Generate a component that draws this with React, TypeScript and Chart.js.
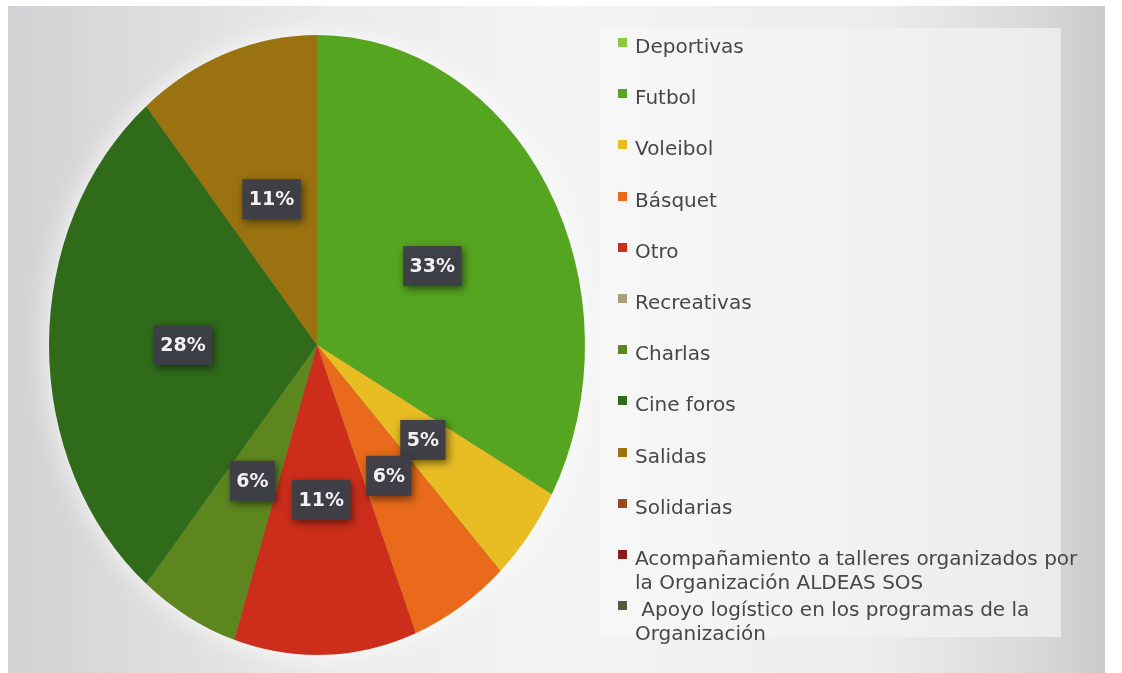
import React, { useEffect, useRef } from "react";
import { Chart, registerables } from "chart.js";
Chart.register(...registerables);

const categories: string[] = [
  "Deportivas",
  "Futbol",
  "Voleibol",
  "Básquet",
  "Otro",
  "Recreativas",
  "Charlas",
  "Cine foros",
  "Salidas",
  "Solidarias",
  "Acompañamiento a talleres organizados por\nla Organización ALDEAS SOS",
  " Apoyo logístico en los programas de la\nOrganización",
];
const percentages: number[] = [0, 33, 5, 6, 11, 0, 6, 28, 11, 0, 0, 0];
const sliceColors: string[] = [
  "#8dc63f",
  "#56a521",
  "#e8bd24",
  "#e86a1a",
  "#cd2e1b",
  "#a6a07a",
  "#5d861f",
  "#306b1a",
  "#9b7210",
  "#9a4a1c",
  "#8a1c1c",
  "#5a5a40",
];

const SY = 310 / 268;

const ellipsePlugin = {
  id: "ellipsePie",
  beforeDatasetsDraw(chart: any) {
    const meta = chart.getDatasetMeta(0);
    const a: any = meta.data[0];
    const { x, y, outerRadius } = a;
    const ctx = chart.ctx as CanvasRenderingContext2D;
    ctx.save();
    ctx.translate(x, y);
    ctx.scale(1, SY);
    ctx.translate(-x, -y);
    ctx.save();
    ctx.shadowColor = "rgba(255,255,255,0.95)";
    ctx.shadowBlur = 28;
    ctx.beginPath();
    ctx.arc(x, y, outerRadius - 1, 0, Math.PI * 2);
    ctx.fillStyle = "#888";
    ctx.fill();
    ctx.restore();
  },
  afterDatasetsDraw(chart: any) {
    const ctx = chart.ctx as CanvasRenderingContext2D;
    ctx.restore();
    const meta = chart.getDatasetMeta(0);
    const data = chart.data.datasets[0].data as number[];
    meta.data.forEach((el: any, i: number) => {
      const v = data[i];
      if (!v) return;
      const mid = (el.startAngle + el.endAngle) / 2;
      const r = el.outerRadius * 0.5;
      const px = el.x + Math.cos(mid) * r;
      const py = el.y + Math.sin(mid) * r * SY;
      const text = v + "%";
      ctx.save();
      ctx.font = "bold 19px 'DejaVu Sans', sans-serif";
      const tw = ctx.measureText(text).width;
      const w = tw + 13;
      const h = 40;
      ctx.shadowColor = "rgba(0,0,0,0.55)";
      ctx.shadowBlur = 8;
      ctx.shadowOffsetX = 2;
      ctx.shadowOffsetY = 3;
      ctx.fillStyle = "rgba(62,63,72,0.97)";
      ctx.fillRect(px - w / 2, py - h / 2, w, h);
      ctx.shadowColor = "transparent";
      ctx.fillStyle = "#f2f2f2";
      ctx.textAlign = "center";
      ctx.textBaseline = "middle";
      ctx.fillText(text, px, py + 1);
      ctx.restore();
    });
  },
};

export default function App() {
  const ref = useRef<HTMLCanvasElement>(null);
  useEffect(() => {
    if (!ref.current) return;
    const chart = new Chart(ref.current, {
      type: "pie",
      data: {
        labels: categories,
        datasets: [
          {
            data: percentages,
            backgroundColor: sliceColors,
            borderWidth: 0,
          },
        ],
      },
      options: {
        responsive: false,
        animation: false,
        layout: { padding: { left: 49, right: 49, top: 77, bottom: 60 } },
        plugins: {
          legend: { display: false },
          tooltip: { enabled: false },
        },
      },
      plugins: [ellipsePlugin],
    });
    return () => chart.destroy();
  }, []);

  return (
    <div
      style={{
        position: "fixed",
        left: 0,
        top: 0,
        width: 1122,
        height: 673,
        background: "#ffffff",
        overflow: "hidden",
      }}
    >
      <div
        style={{
          position: "absolute",
          left: 8,
          top: 6,
          width: 1097,
          height: 667,
          background:
            "linear-gradient(to right, #d2d2d4 0%, #dcdcdd 12%, #ebebeb 30%, #f4f4f4 50%, #ececec 80%, #d8d8d8 94%, #cacaca 100%)",
        }}
      />
      <div
        style={{
          position: "absolute",
          left: 600,
          top: 28,
          width: 461,
          height: 609,
          background: "linear-gradient(to right, #f7f7f7 0%, #f1f1f1 60%, #ebebeb 100%)",
        }}
      />
      <canvas
        ref={ref}
        width={634}
        height={673}
        style={{ position: "absolute", left: 0, top: 0, width: 634, height: 673 }}
      />
      {categories.map((c, i) => (
        <div
          key={i}
          style={{
            position: "absolute",
            left: 618,
            top: 34 + 51.2 * i,
            fontFamily: "'DejaVu Sans', sans-serif",
            fontSize: 20,
            lineHeight: "24px",
            color: "#474747",
            whiteSpace: "pre",
          }}
        >
          <span
            style={{
              position: "absolute",
              left: 0,
              top: 4,
              width: 9,
              height: 9,
              background: sliceColors[i],
            }}
          />
          <div style={{ marginLeft: 17 }}>{c}</div>
        </div>
      ))}
    </div>
  );
}
